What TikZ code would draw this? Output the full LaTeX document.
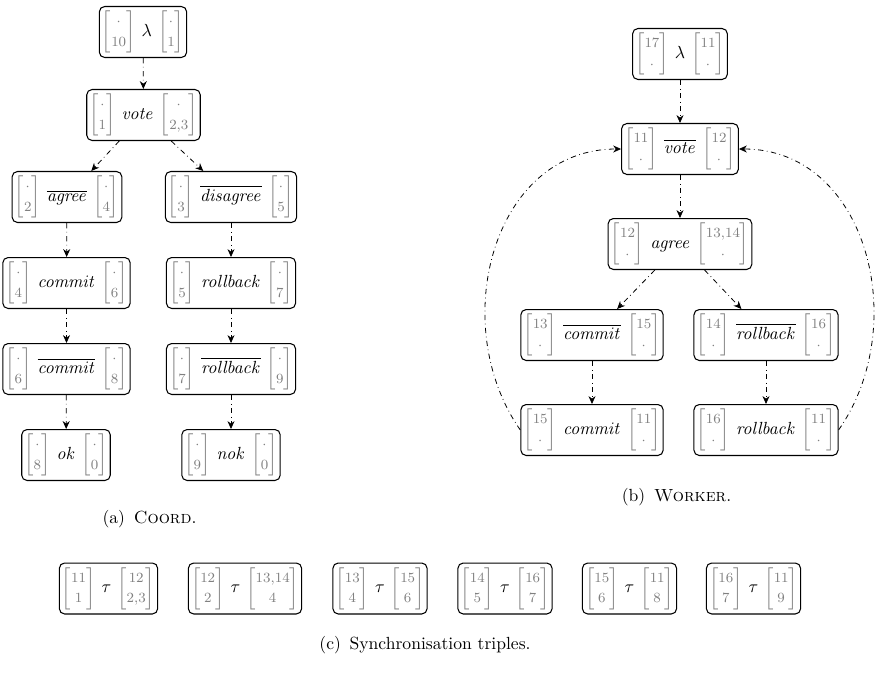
\documentclass[tikz,border=0pt]{standalone}
\usepackage{amsmath}
\usetikzlibrary{arrows.meta}
\newcommand{\vv}[2]{{\color{black!50}\renewcommand{\arraystretch}{0.95}\setlength{\arraycolsep}{1pt}\begin{bmatrix}\text{\footnotesize #1}\\\text{\footnotesize #2}\end{bmatrix}}}
\newcommand{\dt}{$\cdot$}
\newcommand{\trip}[5]{$\vv{#1}{#2}\hspace{3.5pt}#3\hspace{3.5pt}\vv{#4}{#5}$}
\tikzset{
  box/.style={draw, rounded corners=3pt, inner xsep=1.5pt, inner ysep=2.5pt, line width=0.6pt},
  flow/.style={-{Stealth[length=4.5pt,width=4pt]}, dash dot, line width=0.45pt},
  captext/.style={font=\normalsize, inner sep=0pt}
}
\begin{document}
\begin{tikzpicture}[x=0.02cm,y=0.02cm]
\useasboundingbox (0,0) rectangle (880,-673);
% (a) Coord
\node[box] (cl) at (143,-32) {\trip{\dt}{10}{\lambda}{\dt}{1}};
\node[box] (cv) at (143.5,-115) {\trip{\dt}{1}{\mathit{vote}}{\dt}{2,3}};
\node[box] (ca) at (67,-197) {\trip{\dt}{2}{\overline{\mathit{agree}}}{\dt}{4}};
\node[box] (cd) at (231,-197) {\trip{\dt}{3}{\overline{\mathit{disagree}}}{\dt}{5}};
\node[box] (cc) at (66.5,-283) {\trip{\dt}{4}{\mathit{commit}}{\dt}{6}};
\node[box] (cr) at (231,-283) {\trip{\dt}{5}{\mathit{rollback}}{\dt}{7}};
\node[box] (ccb) at (66.5,-369) {\trip{\dt}{6}{\overline{\mathit{commit}}}{\dt}{8}};
\node[box] (crb) at (231,-369) {\trip{\dt}{7}{\overline{\mathit{rollback}}}{\dt}{9}};
\node[box] (cok) at (66,-455) {\trip{\dt}{8}{\mathit{ok}}{\dt}{0}};
\node[box] (cnok) at (231,-455) {\trip{\dt}{9}{\mathit{nok}}{\dt}{0}};
\draw[flow] (cl) -- (cv);
\draw[flow] (cv) -- (ca);
\draw[flow] (cv) -- (cd);
\draw[flow] (ca) -- (cc);
\draw[flow] (cd) -- (cr);
\draw[flow] (cc) -- (ccb);
\draw[flow] (cr) -- (crb);
\draw[flow] (ccb) -- (cok);
\draw[flow] (crb) -- (cnok);
\node[captext] (capa) at (149.5,-519) {(a)\enspace\textsc{Coord}.};
% (b) Worker
\node[box] (wl) at (680,-54) {\trip{17}{\dt}{\lambda}{11}{\dt}};
\node[box] (wv) at (680,-149) {\trip{11}{\dt}{\overline{\mathit{vote}}}{12}{\dt}};
\node[box] (wa) at (680,-244) {\trip{12}{\dt}{\mathit{agree}}{13,14}{\dt}};
\node[box] (wcb) at (592,-335) {\trip{13}{\dt}{\overline{\mathit{commit}}}{15}{\dt}};
\node[box] (wrb) at (766,-335) {\trip{14}{\dt}{\overline{\mathit{rollback}}}{16}{\dt}};
\node[box] (wc) at (592,-430) {\trip{15}{\dt}{\mathit{commit}}{11}{\dt}};
\node[box] (wr) at (766,-430) {\trip{16}{\dt}{\mathit{rollback}}{11}{\dt}};
\draw[flow] (wl) -- (wv);
\draw[flow] (wv) -- (wa);
\draw[flow] (wa) -- (wcb);
\draw[flow] (wa) -- (wrb);
\draw[flow] (wcb) -- (wc);
\draw[flow] (wrb) -- (wr);
\draw[flow] (wc.west) to[out=125,in=180,looseness=1.1] (wv.west);
\draw[flow] (wr.east) to[out=55,in=0,looseness=1.1] (wv.east);
\node[captext] (capb) at (676.5,-497) {(b)\enspace\textsc{Worker}.};
% (c) Synchronisation triples
\node[box] (s1) at (108.5,-588.5) {\trip{11}{1}{\tau}{12}{2,3}};
\node[box] (s2) at (245,-588.5) {\trip{12}{2}{\tau}{13,14}{4}};
\node[box] (s3) at (380,-588.5) {\trip{13}{4}{\tau}{15}{6}};
\node[box] (s4) at (505,-588.5) {\trip{14}{5}{\tau}{16}{7}};
\node[box] (s5) at (629.5,-588.5) {\trip{15}{6}{\tau}{11}{8}};
\node[box] (s6) at (753.5,-588.5) {\trip{16}{7}{\tau}{11}{9}};
\node[captext] (capc) at (425,-645) {(c)\enspace Synchronisation triples.};
\end{tikzpicture}
\end{document}
